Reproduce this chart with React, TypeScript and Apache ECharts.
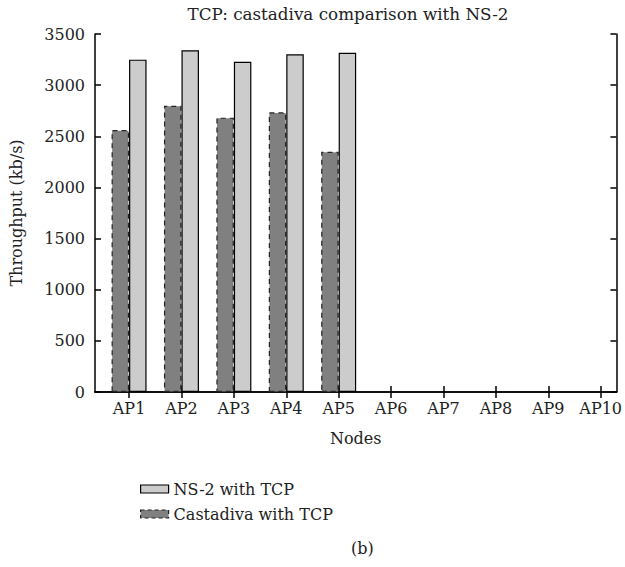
import React, { useEffect, useRef } from "react";
import * as echarts from "echarts";

const categories = ["AP1", "AP2", "AP3", "AP4", "AP5", "AP6", "AP7", "AP8", "AP9", "AP10"];
const ns2Values = [3249, 3341, 3229, 3301, 3317];
const castadivaValues = [2561, 2799, 2682, 2734, 2349];
const yTicks = [0, 500, 1000, 1500, 2000, 2500, 3000, 3500];

const FONT = "DejaVu Serif";

export default function App() {
  const ref = useRef<HTMLDivElement>(null);
  useEffect(() => {
    const chart = echarts.init(ref.current!, null, { renderer: "svg" });
    const positions = categories.map((_, i) => i + 1);
    const xLabelFmt = (v: number) => categories[Math.round(v) - 1] ?? "";
    const textStyle = { fontFamily: FONT, fontSize: 16, color: "#222" };
    chart.setOption({
      animation: false,
      backgroundColor: "#fff",
      textStyle: { fontFamily: FONT },
      title: {
        text: "TCP: castadiva comparison with NS-2",
        left: 343,
        top: 0,
        textAlign: "center",
        textStyle: { ...textStyle, fontSize: 16.75, fontWeight: "normal" },
      },
      grid: { left: 94, top: 34, width: 528, height: 358, containLabel: false },
      legend: {
        orient: "vertical",
        left: 135,
        top: 476,
        itemWidth: 28,
        itemHeight: 8,
        itemGap: 9,
        textStyle: { ...textStyle },
        data: [
          { name: "NS-2 with TCP", icon: "rect", itemStyle: { color: "#cccccc", borderColor: "#000", borderWidth: 1.2 } },
          {
            name: "Castadiva with TCP",
            icon: "rect",
            itemStyle: { color: "#808080", borderColor: "#222", borderWidth: 1.2, borderType: [4, 3] },
          },
        ],
      },
      graphic: [
        {
          type: "text",
          left: 351,
          top: 540,
          style: { text: "(b)", font: `16px "${FONT}"`, fill: "#222" },
        },
      ],
      xAxis: [
        {
          type: "value",
          min: 0.35,
          max: 10.3,
          position: "bottom",
          name: "Nodes",
          nameLocation: "middle",
          nameGap: 38,
          nameTextStyle: { ...textStyle },
          splitLine: { show: false },
          axisLine: { show: true, lineStyle: { color: "#000", width: 1.5 } },
          axisTick: { show: true, inside: true, length: 6, customValues: positions, lineStyle: { color: "#000", width: 1.5 } },
          axisLabel: { customValues: positions, formatter: xLabelFmt, margin: 8, ...textStyle },
        },
        {
          type: "value",
          min: 0.35,
          max: 10.3,
          position: "top",
          splitLine: { show: false },
          axisLine: { show: true, lineStyle: { color: "#000", width: 1.5 } },
          axisTick: { show: true, inside: true, length: 6, customValues: positions, lineStyle: { color: "#000", width: 1.5 } },
          axisLabel: { show: false },
        },
      ],
      yAxis: [
        {
          type: "value",
          min: 0,
          max: 3500,
          interval: 500,
          position: "left",
          name: "Throughput (kb/s)",
          nameLocation: "middle",
          nameGap: 71,
          nameTextStyle: { ...textStyle },
          splitLine: { show: false },
          axisLine: { show: true, lineStyle: { color: "#000", width: 1.5 } },
          axisTick: { show: true, inside: true, length: 6, lineStyle: { color: "#000", width: 1.5 } },
          axisLabel: { margin: 10, ...textStyle, formatter: (v: number) => (yTicks.includes(v) ? String(v) : "") },
        },
        {
          type: "value",
          min: 0,
          max: 3500,
          interval: 500,
          position: "right",
          splitLine: { show: false },
          axisLine: { show: true, lineStyle: { color: "#000", width: 1.5 } },
          axisTick: { show: true, inside: true, length: 6, lineStyle: { color: "#000", width: 1.5 } },
          axisLabel: { show: false },
        },
      ],
      series: [
        {
          name: "Castadiva with TCP",
          type: "bar",
          xAxisIndex: 0,
          yAxisIndex: 0,
          barWidth: 17.5,
          barGap: "0%",
          data: castadivaValues.map((v, i) => [i + 1, v]),
          itemStyle: { color: "#808080", borderColor: "#222", borderWidth: 1.2, borderType: [5, 4] },
        },
        {
          name: "NS-2 with TCP",
          type: "bar",
          xAxisIndex: 0,
          yAxisIndex: 0,
          barWidth: 17.5,
          barGap: "0%",
          data: ns2Values.map((v, i) => [i + 1, v]),
          itemStyle: { color: "#cccccc", borderColor: "#000", borderWidth: 1.2 },
        },
      ],
    });
    return () => chart.dispose();
  }, []);
  return <div ref={ref} style={{ width: 625, height: 567, position: "absolute", left: 0, top: 0 }} />;
}
